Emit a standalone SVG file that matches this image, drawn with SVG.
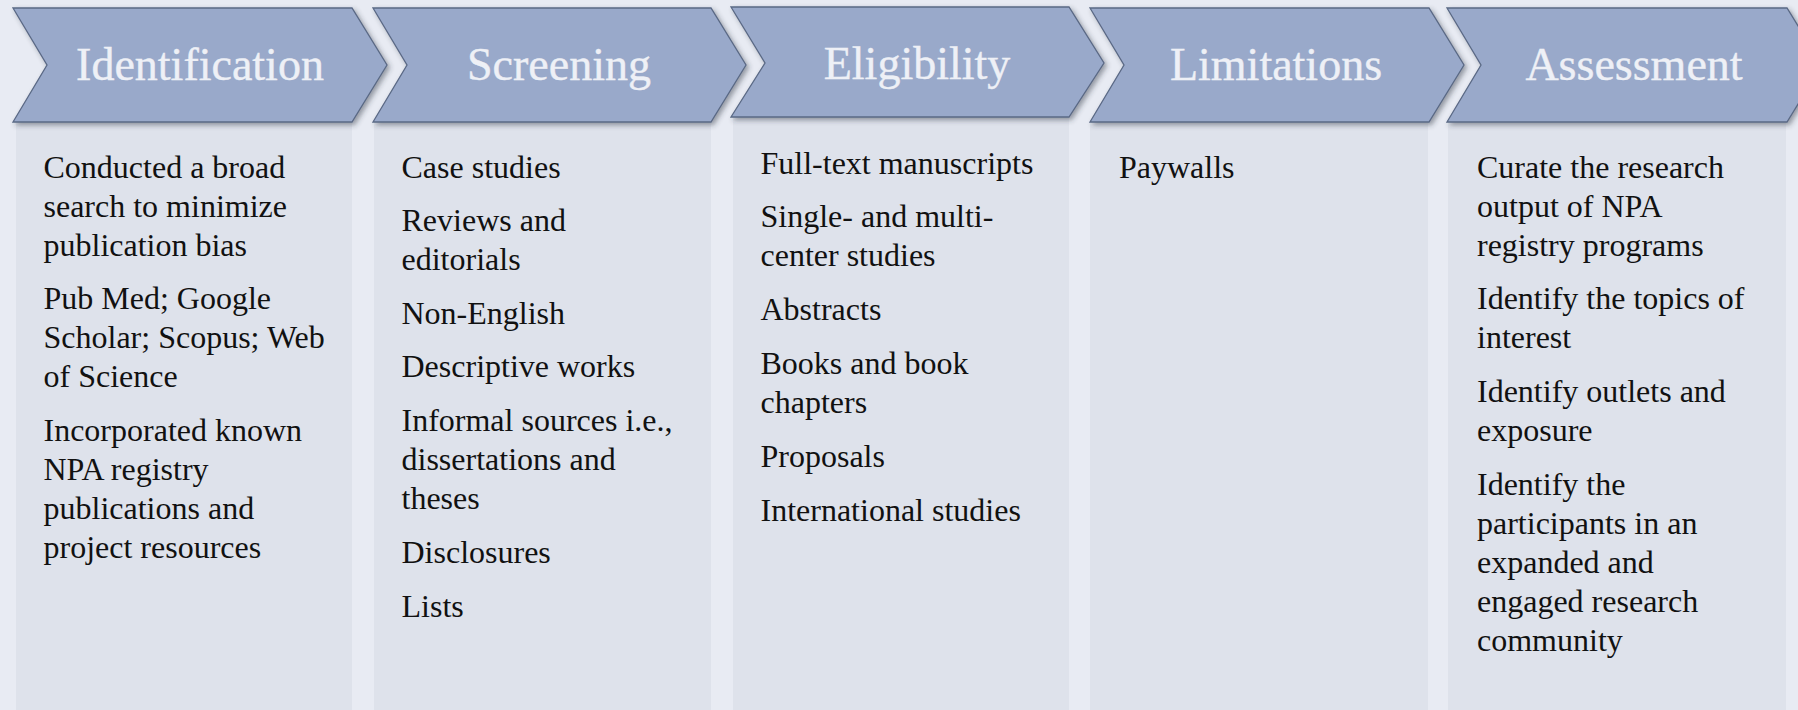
<svg xmlns="http://www.w3.org/2000/svg" width="1798" height="710" viewBox="0 0 1798 710">
<defs>
<filter id="sh" x="-10%" y="-20%" width="125%" height="150%">
<feDropShadow dx="2.5" dy="2.5" stdDeviation="2.5" flood-color="#2a3040" flood-opacity="0.45"/>
</filter>
<style>
.bg{fill:#e8ebf3}
.box{fill:#dee2eb}
.chev{fill:#99a9ca;stroke:#5a6985;stroke-width:1.3;stroke-linejoin:miter}
.title{font-family:"Liberation Serif",serif;font-size:46px;fill:#eef0f6;stroke:#eef0f6;stroke-width:0.4;text-anchor:middle}
.body{font-family:"Liberation Serif",serif;font-size:32px;fill:#111}
</style>
</defs>
<rect class="bg" x="0" y="0" width="1798" height="710"/>

<g id="identification">
<rect class="box" x="16" y="122" width="336" height="600"/>
<polygon class="chev" filter="url(#sh)" points="13,8 352,8 387,65 352,122 13,122 47,65"/>
<text class="title" x="200" y="80">Identification</text>
<text class="body">
<tspan x="43.5" y="177.5">Conducted a broad</tspan>
<tspan x="43.5" y="216.5">search to minimize</tspan>
<tspan x="43.5" y="255.5">publication bias</tspan>
<tspan x="43.5" y="309">Pub Med; Google</tspan>
<tspan x="43.5" y="348">Scholar; Scopus; Web</tspan>
<tspan x="43.5" y="387">of Science</tspan>
<tspan x="43.5" y="440.5">Incorporated known</tspan>
<tspan x="43.5" y="479.5">NPA registry</tspan>
<tspan x="43.5" y="518.5">publications and</tspan>
<tspan x="43.5" y="557.5">project resources</tspan>
</text>
</g>

<g id="screening">
<rect class="box" x="374" y="122" width="337" height="600"/>
<polygon class="chev" filter="url(#sh)" points="373,8 711,8 746,65 711,122 373,122 407,65"/>
<text class="title" x="559" y="80">Screening</text>
<text class="body">
<tspan x="401.5" y="177.5">Case studies</tspan>
<tspan x="401.5" y="231">Reviews and</tspan>
<tspan x="401.5" y="270">editorials</tspan>
<tspan x="401.5" y="323.5">Non-English</tspan>
<tspan x="401.5" y="377">Descriptive works</tspan>
<tspan x="401.5" y="430.5">Informal sources i.e.,</tspan>
<tspan x="401.5" y="469.5">dissertations and</tspan>
<tspan x="401.5" y="508.5">theses</tspan>
<tspan x="401.5" y="563">Disclosures</tspan>
<tspan x="401.5" y="617">Lists</tspan>
</text>
</g>

<g id="eligibility">
<rect class="box" x="733" y="117" width="336" height="605"/>
<polygon class="chev" filter="url(#sh)" points="731,7 1069,7 1104,63 1069,117 731,117 765,63"/>
<text class="title" x="917" y="79">Eligibility</text>
<text class="body">
<tspan x="760.5" y="173.5">Full-text manuscripts</tspan>
<tspan x="760.5" y="227">Single- and multi-</tspan>
<tspan x="760.5" y="266">center studies</tspan>
<tspan x="760.5" y="320">Abstracts</tspan>
<tspan x="760.5" y="374">Books and book</tspan>
<tspan x="760.5" y="413">chapters</tspan>
<tspan x="760.5" y="467">Proposals</tspan>
<tspan x="760.5" y="521">International studies</tspan>
</text>
</g>

<g id="limitations">
<rect class="box" x="1090" y="122" width="338" height="600"/>
<polygon class="chev" filter="url(#sh)" points="1090,8 1429,8 1464,65 1429,122 1090,122 1124,65"/>
<text class="title" x="1276" y="80">Limitations</text>
<text class="body">
<tspan x="1119" y="177.5">Paywalls</tspan>
</text>
</g>

<g id="assessment">
<rect class="box" x="1448" y="122" width="338" height="600"/>
<polygon class="chev" filter="url(#sh)" points="1447,8 1787,8 1822,65 1787,122 1447,122 1481,65"/>
<text class="title" x="1634" y="80">Assessment</text>
<text class="body">
<tspan x="1477" y="177.5">Curate the research</tspan>
<tspan x="1477" y="216.5">output of NPA</tspan>
<tspan x="1477" y="255.5">registry programs</tspan>
<tspan x="1477" y="309">Identify the topics of</tspan>
<tspan x="1477" y="348">interest</tspan>
<tspan x="1477" y="402">Identify outlets and</tspan>
<tspan x="1477" y="441">exposure</tspan>
<tspan x="1477" y="495">Identify the</tspan>
<tspan x="1477" y="534">participants in an</tspan>
<tspan x="1477" y="573">expanded and</tspan>
<tspan x="1477" y="612">engaged research</tspan>
<tspan x="1477" y="650.5">community</tspan>
</text>
</g>

<g id="connectors"></g>
</svg>
